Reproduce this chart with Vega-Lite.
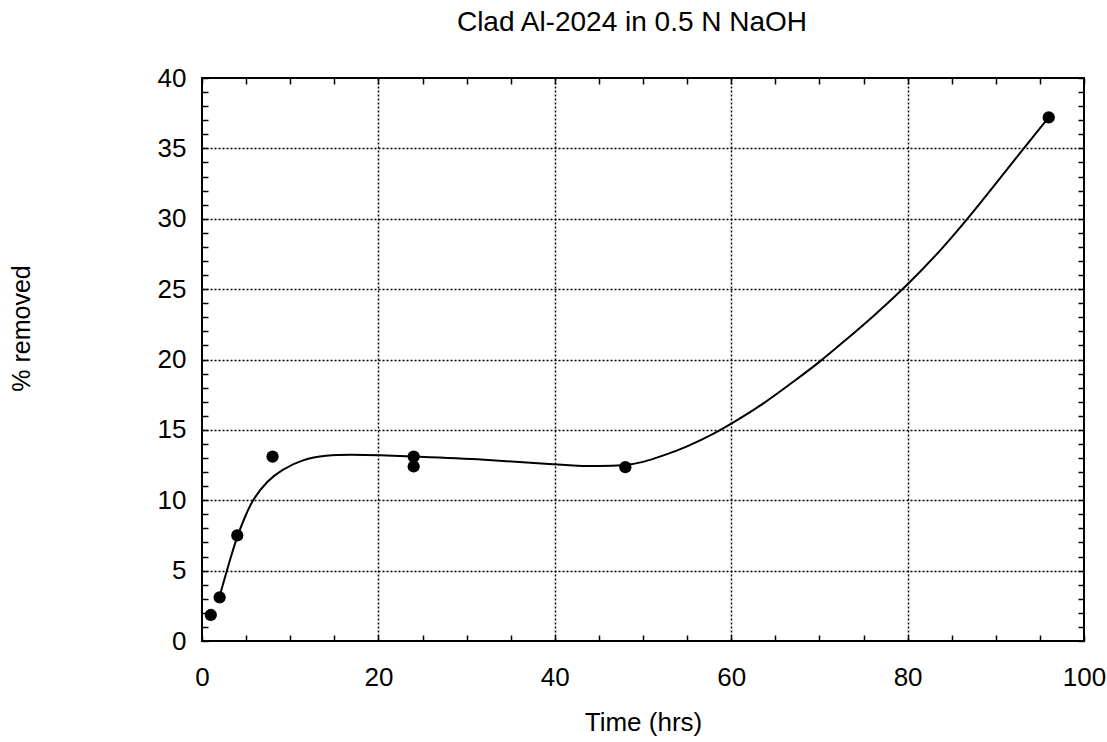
{
  "$schema": "https://vega.github.io/schema/vega-lite/v6.json",
  "width": 882,
  "height": 563,
  "autosize": "none",
  "padding": {"left": 202, "top": 78, "right": 23, "bottom": 101},
  "background": "white",
  "title": {
    "text": "Clad Al-2024 in 0.5 N NaOH",
    "font": "Liberation Sans",
    "fontSize": 28,
    "fontWeight": "normal",
    "color": "black",
    "anchor": "middle",
    "dx": -11,
    "baseline": "bottom",
    "offset": 0
  },
  "datasets": {
    "points": [
      {"time": 1, "removed": 1.85},
      {"time": 2, "removed": 3.1},
      {"time": 4, "removed": 7.5},
      {"time": 8, "removed": 13.1},
      {"time": 24, "removed": 13.1},
      {"time": 24, "removed": 12.4},
      {"time": 48, "removed": 12.35},
      {"time": 96, "removed": 37.2}
    ],
    "curve": [
      {"time": 2, "removed": 3.2},
      {"time": 3, "removed": 5.4},
      {"time": 4, "removed": 7.5},
      {"time": 5, "removed": 9.0},
      {"time": 5.7, "removed": 10.0},
      {"time": 7.4, "removed": 11.4},
      {"time": 9.1, "removed": 12.2},
      {"time": 11.4, "removed": 12.9},
      {"time": 14, "removed": 13.2},
      {"time": 17, "removed": 13.25},
      {"time": 20, "removed": 13.2},
      {"time": 24, "removed": 13.1},
      {"time": 32, "removed": 12.9},
      {"time": 40, "removed": 12.55},
      {"time": 44, "removed": 12.4},
      {"time": 48, "removed": 12.45},
      {"time": 50, "removed": 12.7},
      {"time": 52, "removed": 13.1},
      {"time": 55, "removed": 13.8},
      {"time": 58, "removed": 14.7},
      {"time": 61, "removed": 15.8},
      {"time": 64, "removed": 17.0},
      {"time": 67, "removed": 18.4},
      {"time": 70, "removed": 19.8},
      {"time": 73, "removed": 21.4},
      {"time": 76, "removed": 23.0},
      {"time": 80, "removed": 25.3},
      {"time": 84, "removed": 27.9},
      {"time": 88, "removed": 30.9},
      {"time": 92, "removed": 34.1},
      {"time": 96, "removed": 37.2}
    ]
  },
  "resolve": {"axis": {"x": "independent", "y": "independent"}},
  "layer": [
    {
      "data": {"name": "curve"},
      "mark": {"type": "line", "color": "black", "strokeWidth": 2, "interpolate": "basis"},
      "encoding": {
        "x": {
          "field": "time", "type": "quantitative",
          "scale": {"domain": [0, 100], "nice": false, "zero": false},
          "axis": {
            "orient": "top", "labels": false, "grid": false, "domain": false, "title": null,
            "values": [0,5,10,15,20,25,30,35,40,45,50,55,60,65,70,75,80,85,90,95,100],
            "tickSize": -6, "tickWidth": 1.5, "tickColor": "black"
          }
        },
        "y": {
          "field": "removed", "type": "quantitative",
          "scale": {"domain": [0, 40], "nice": false, "zero": false},
          "axis": {
            "orient": "right", "labels": false, "grid": false, "domain": false, "title": null,
            "values": [0,1,2,3,4,5,6,7,8,9,10,11,12,13,14,15,16,17,18,19,20,21,22,23,24,25,26,27,28,29,30,31,32,33,34,35,36,37,38,39,40],
            "tickSize": -6, "tickWidth": 1.5, "tickColor": "black"
          }
        }
      }
    },
    {
      "data": {"name": "points"},
      "mark": {"type": "point", "filled": true, "shape": "circle", "size": 150, "color": "black", "opacity": 1},
      "encoding": {
        "x": {
          "field": "time", "type": "quantitative",
          "scale": {"domain": [0, 100], "nice": false, "zero": false},
          "axis": {
            "orient": "bottom",
            "title": "Time (hrs)",
            "titleFont": "Liberation Sans", "titleFontSize": 26, "titleFontWeight": "normal", "titleColor": "black",
            "titleY": 89, "titleBaseline": "alphabetic",
            "values": [0,5,10,15,20,25,30,35,40,45,50,55,60,65,70,75,80,85,90,95,100],
            "labelExpr": "datum.value % 20 === 0 ? datum.label : ''",
            "labelFont": "Liberation Sans", "labelFontSize": 26, "labelColor": "black",
            "labelPadding": 29, "labelFlush": false, "labelOverlap": false,
            "domain": false,
            "tickSize": -6, "tickWidth": 1.5, "tickColor": "black",
            "grid": true, "gridColor": "black", "gridDash": [2, 2], "gridWidth": 1.5,
            "gridOpacity": {"condition": {"test": "datum.value % 20 === 0 && datum.value > 0 && datum.value < 100", "value": 1}, "value": 0}
          }
        },
        "y": {
          "field": "removed", "type": "quantitative",
          "scale": {"domain": [0, 40], "nice": false, "zero": false},
          "axis": {
            "orient": "left",
            "title": "% removed",
            "titleFont": "Liberation Sans", "titleFontSize": 25, "titleFontWeight": "normal", "titleColor": "black",
            "titleX": -181, "titleY": 250, "titleAngle": -90, "titleBaseline": "middle",
            "values": [0,1,2,3,4,5,6,7,8,9,10,11,12,13,14,15,16,17,18,19,20,21,22,23,24,25,26,27,28,29,30,31,32,33,34,35,36,37,38,39,40],
            "labelExpr": "datum.value % 5 === 0 ? datum.label : ''",
            "labelFont": "Liberation Sans", "labelFontSize": 26, "labelColor": "black",
            "labelPadding": 22, "labelFlush": false, "labelOverlap": false,
            "domain": false,
            "tickSize": -6, "tickWidth": 1.5, "tickColor": "black",
            "grid": true, "gridColor": "black", "gridDash": [2, 2], "gridWidth": 1.5,
            "gridOpacity": {"condition": {"test": "datum.value % 5 === 0 && datum.value > 0 && datum.value < 40", "value": 1}, "value": 0}
          }
        }
      }
    }
  ],
  "config": {
    "view": {"stroke": "black", "strokeWidth": 2}
  }
}
